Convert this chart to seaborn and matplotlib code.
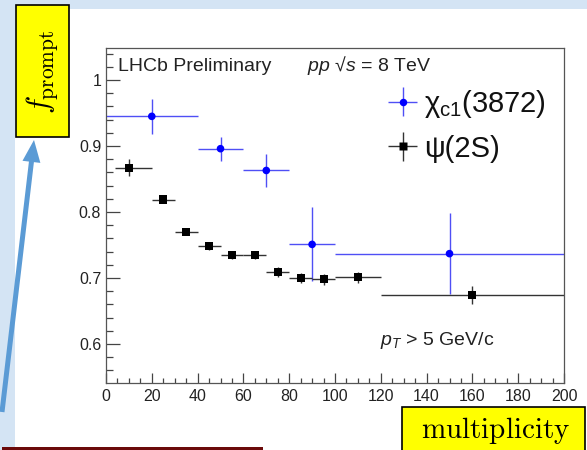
import matplotlib
matplotlib.use("Agg")
import matplotlib.pyplot as plt
from matplotlib.patches import Rectangle, FancyArrow
from matplotlib.lines import Line2D
from matplotlib.legend_handler import HandlerTuple
from matplotlib.ticker import MultipleLocator
import seaborn as sns

# chi_c1(3872): prompt fraction vs. multiplicity
chi_mult = [20, 50, 70, 90, 150]
chi_fprompt = [0.945, 0.896, 0.863, 0.751, 0.737]
chi_xerr = [20, 10, 10, 10, 50]
chi_yerr = [0.027, 0.018, 0.025, 0.056, 0.061]

# psi(2S): prompt fraction vs. multiplicity
psi_mult = [10, 25, 35, 45, 55, 65, 75, 85, 95, 110, 160]
psi_fprompt = [0.867, 0.819, 0.770, 0.749, 0.735, 0.735, 0.709, 0.700, 0.698, 0.701, 0.674]
psi_xlo = [6, 5, 5, 5, 5, 5, 5, 5, 5, 10, 40]
psi_xhi = [10, 5, 5, 5, 5, 5, 5, 5, 5, 10, 40]
psi_yerr = [0.013, 0.005, 0.005, 0.006, 0.006, 0.006, 0.007, 0.007, 0.008, 0.008, 0.014]

y_ticks = [0.6, 0.7, 0.8, 0.9, 1.0]
y_ticklabels = ["0.6", "0.7", "0.8", "0.9", "1"]

sns.set_theme(style="ticks")
plt.rcParams["font.family"] = ["Liberation Sans", "DejaVu Sans"]
plt.rcParams["mathtext.fontset"] = "custom"
plt.rcParams["mathtext.rm"] = "Liberation Sans"
plt.rcParams["mathtext.it"] = "Liberation Sans:italic"
plt.rcParams["mathtext.bf"] = "Liberation Sans:bold"

W, H = 587, 450
fig = plt.figure(figsize=(W / 100, H / 100), dpi=100)
fig.patch.set_facecolor("#d4e4f4")

# slide background and annotations, in pixel units
bg = fig.add_axes([0, 0, 1, 1], zorder=0)
bg.set_xlim(0, W)
bg.set_ylim(H, 0)
bg.axis("off")
bg.add_patch(Rectangle((15, 9), W - 15, H - 9, facecolor="white", edgecolor="none"))
bg.add_patch(Rectangle((16, 5), 53, 132, facecolor="#ffff00", edgecolor="black", lw=1.2))
bg.text(42.5, 72, r"$f_{\mathrm{prompt}}$", rotation=90, ha="center", va="center",
        fontsize=22, math_fontfamily="cm", color="black")
bg.add_patch(Rectangle((402, 407), 183, 50, facecolor="#ffff00", edgecolor="black", lw=1.2))
bg.text(496, 438, r"$\mathrm{multiplicity}$", ha="center", va="baseline",
        fontsize=21, math_fontfamily="cm", color="black")
bg.add_patch(FancyArrow(2, 412, 32, -272, width=5, head_width=18, head_length=22,
                        length_includes_head=True, color="#5b9bd5", lw=0))
bg.add_patch(Rectangle((2, 447), 261, 5, facecolor="#6b0a0a", edgecolor="none"))

# main plot
ax = fig.add_axes([106 / W, 1 - 383 / H, (564 - 106) / W, (383 - 47.7) / H], zorder=1)
ax.set_facecolor("white")

eb_chi = ax.errorbar(chi_mult, chi_fprompt, xerr=chi_xerr, yerr=chi_yerr, fmt="none",
                     ecolor="#4f4ff5", elinewidth=1.0, capsize=0, zorder=2)
eb_psi = ax.errorbar(psi_mult, psi_fprompt, xerr=[psi_xlo, psi_xhi], yerr=psi_yerr,
                     fmt="none", ecolor="#333333", elinewidth=1.0, capsize=0, zorder=2)
sns.scatterplot(x=chi_mult, y=chi_fprompt, marker="o", s=30, color="#0000ff",
                edgecolor="none", ax=ax, zorder=3)
sns.scatterplot(x=psi_mult, y=psi_fprompt, marker="s", s=34, color="black",
                edgecolor="none", ax=ax, zorder=3)

ax.set_xlim(0, 200)
ax.set_ylim(0.541, 1.049)
ax.xaxis.set_major_locator(MultipleLocator(20))
ax.xaxis.set_minor_locator(MultipleLocator(5))
ax.set_yticks(y_ticks)
ax.set_yticklabels(y_ticklabels)
ax.yaxis.set_minor_locator(MultipleLocator(0.02))
ax.set_xlabel("")
ax.set_ylabel("")

ax.tick_params(direction="in", colors="#444444", labelcolor="#222222", labelsize=11.5,
               which="both", width=0.9, top=False, right=False)
ax.tick_params(axis="y", which="major", length=9.9, pad=3.5)
ax.tick_params(axis="y", which="minor", length=5.0)
ax.tick_params(axis="x", which="major", length=7.2, pad=4)
ax.tick_params(axis="x", which="minor", length=3.6)
for sp in ax.spines.values():
    sp.set_visible(True)
    sp.set_color("#555555")
    sp.set_linewidth(0.9)

ax.text(5.4, 1.014, "LHCb Preliminary", fontsize=14, color="#222222")
ax.text(87.6, 1.014, "$pp$ √$s$ = 8 TeV", fontsize=14, color="#222222")
ax.text(119.7, 0.598, "$p_T$ > 5 GeV/c", fontsize=14, color="#222222")

m_chi = Line2D([], [], ls="none", marker="o", ms=5.4, color="#0000ff", mec="none")
m_psi = Line2D([], [], ls="none", marker="s", ms=5.6, color="black", mec="none")
ax.legend(handles=[(eb_chi, m_chi), (eb_psi, m_psi)],
          labels=["χ$_{\\mathregular{c1}}$(3872)", "ψ(2S)"],
          handler_map={tuple: HandlerTuple(ndivide=1)},
          loc="upper left", bbox_to_anchor=(388 / W, 1 - 88 / H),
          bbox_transform=fig.transFigure, frameon=False, fontsize=21,
          handlelength=1.0, handletextpad=0.25, borderpad=0, borderaxespad=0,
          labelspacing=0.5, labelcolor="#111111")

fig.savefig("out.png", dpi=100)
